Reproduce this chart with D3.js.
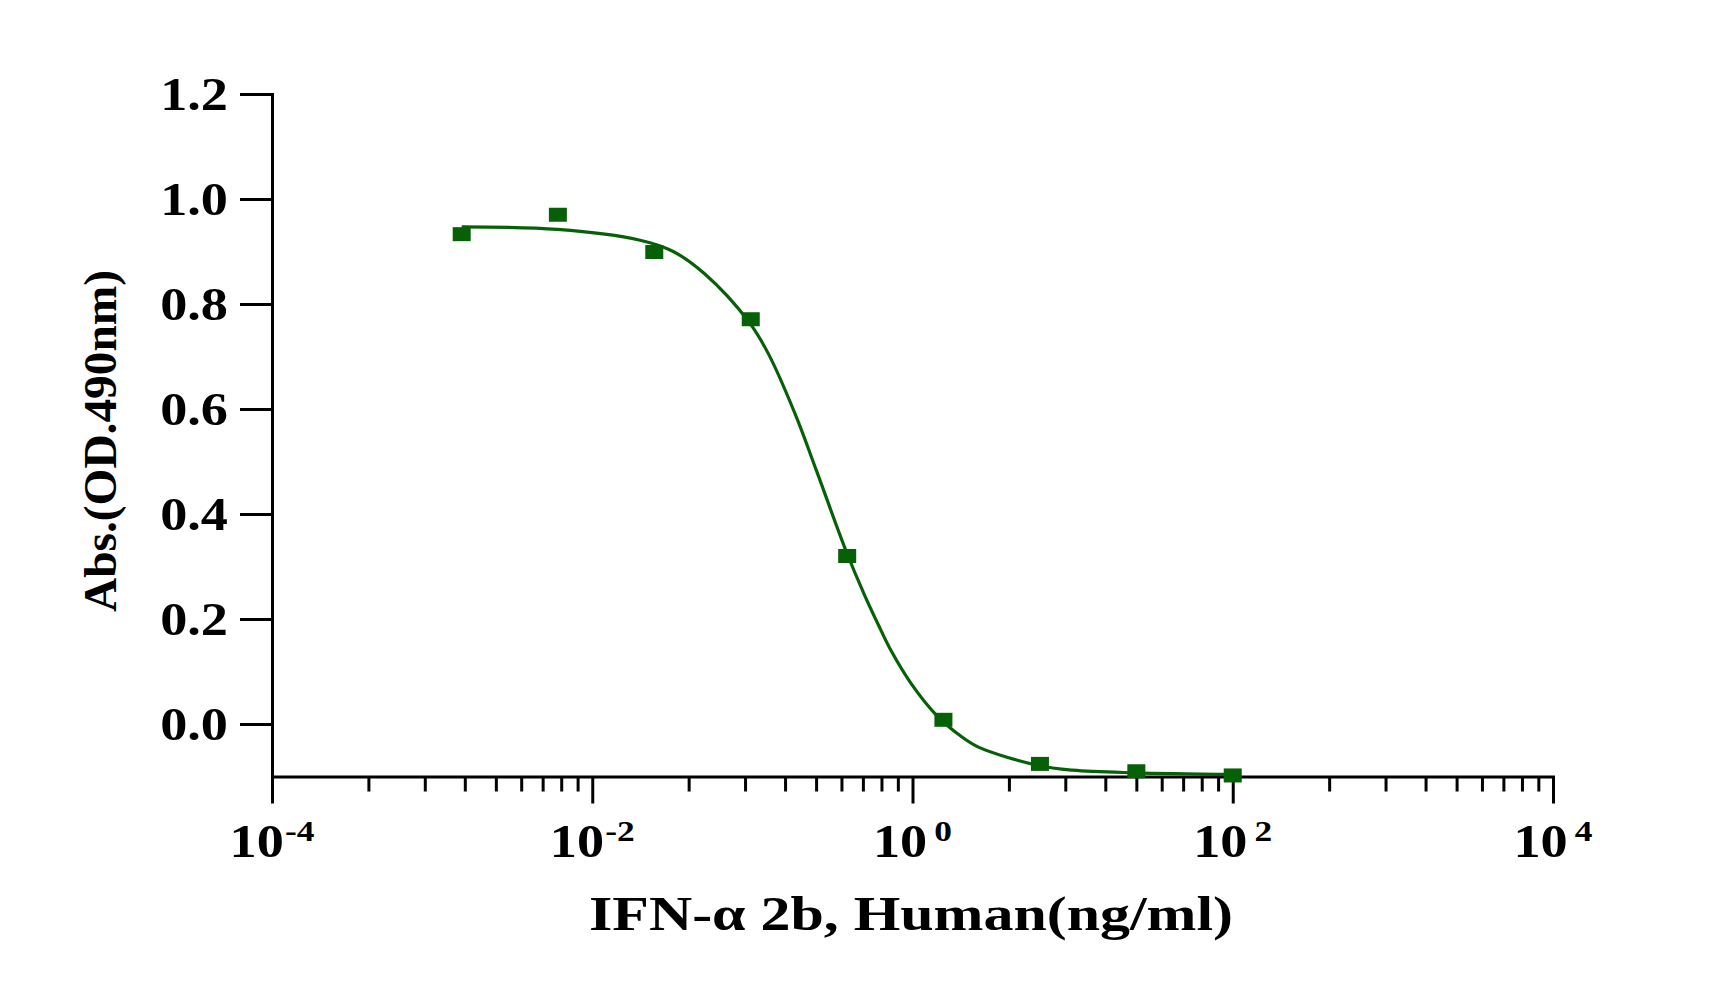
<!DOCTYPE html>
<html>
<head>
<meta charset="utf-8">
<script src="https://cdn.jsdelivr.net/npm/d3@7"></script>
<style>
  body { margin: 0; background: #fff; }
  text { font-family: "Liberation Serif", "Times New Roman", serif; font-weight: bold; fill: #000; }
</style>
</head>
<body>
<div id="vis"></div>
<script>
// measured points (ng/ml vs OD490)
var conc = [0.00153, 0.0061, 0.0244, 0.0977, 0.391, 1.56, 6.25, 25, 100];
var absorb = [0.933, 0.970, 0.899, 0.771, 0.320, 0.008, -0.076, -0.090, -0.098];

// fitted curve
var fitConc = [0.00153, 0.00605, 0.0196, 0.0316, 0.0501, 0.0951, 0.126, 0.187, 0.251, 0.383, 0.501, 0.614, 0.74, 0.986, 1.39, 2.0, 2.58, 6.1, 10, 24.2, 100];
var fitAbs = [0.947, 0.942, 0.922, 0.901, 0.858, 0.766, 0.705, 0.587, 0.483, 0.331, 0.246, 0.188, 0.138, 0.076, 0.019, -0.023, -0.044, -0.079, -0.088, -0.093, -0.096];

// axis ticks
var yTicks = [0.0, 0.2, 0.4, 0.6, 0.8, 1.0, 1.2];
var xMajor = [1e-4, 1e-2, 1e0, 1e2, 1e4];
var xExp = ["-4", "-2", "0", "2", "4"];

var w = 1730;
var h = 990;
var green = "#066106";
var stretch = 1.18;

var svg = d3.select("#vis")
.append("svg")
.attr("width", w)
.attr("height", h)
.style("background", "#fff");

//scales
var x = d3.scaleLog()
.domain([1e-4, 1e4])
.range([272, 1553])

var y = d3.scaleLinear()
.domain([-0.1, 1.2])
.range([776.5, 94])

// minor ticks: Prism style, k^2 steps inside each 100x span
var xMinor = [];
xMajor.slice(0, -1).forEach(function(m) {
  for (var k = 2; k <= 9; k++) xMinor.push(m * k * k);
});

//Draw Axis
var yAxis = svg.append("g")
.attr("transform", "translate(272,0)")
.call(d3.axisLeft(y).tickValues(yTicks).tickSize(32).tickSizeOuter(0).tickFormat(d3.format(".1f")))

yAxis.attr("font-family", null)
yAxis.selectAll("path, line").attr("stroke", "#000").attr("stroke-width", 3)
yAxis.select(".domain").attr("stroke-linecap", "square")
yAxis.selectAll("text")
.attr("font-size", 46)
.attr("x", -44 / stretch)
.attr("dy", "0.34em")
.attr("transform", "scale(" + stretch + ",1)")

var xAxis = svg.append("g")
.attr("transform", "translate(0,776.5)")
.call(d3.axisBottom(x).tickValues(xMajor).tickSize(27).tickSizeOuter(0).tickFormat(""))

xAxis.selectAll("path, line").attr("stroke", "#000").attr("stroke-width", 3)
xAxis.select(".domain").attr("stroke-linecap", "square")

var xMinorAxis = svg.append("g")
.attr("transform", "translate(0,776.5)")
.call(d3.axisBottom(x).tickValues(xMinor).tickSize(15).tickSizeOuter(0).tickFormat(""))

xMinorAxis.select(".domain").remove()
xMinorAxis.selectAll("line").attr("stroke", "#000").attr("stroke-width", 3)

// x tick labels 10^n
var xLab = svg.append("g")
.selectAll("g")
.data(xMajor)
.enter()
.append("g")
.attr("transform", d => `translate(${x(d)},857) scale(${stretch},1)`)

var t = xLab.append("text")
.attr("text-anchor", "middle")
.attr("font-size", 46)

t.append("tspan").text("10")
t.append("tspan")
.attr("font-size", 30)
.attr("dy", -16)
.attr("dx", (d, i) => xExp[i][0] == "-" ? 1 : 6)
.text((d, i) => xExp[i])

// titles
svg.append("text")
.attr("x", 911)
.attr("y", 930)
.attr("text-anchor", "middle")
.attr("font-size", 48)
.attr("textLength", 644)
.attr("lengthAdjust", "spacingAndGlyphs")
.text("IFN-α 2b, Human(ng/ml)")

svg.append("text")
.attr("transform", "translate(116,441) rotate(-90)")
.attr("text-anchor", "middle")
.attr("font-size", 47)
.attr("textLength", 342)
.attr("lengthAdjust", "spacingAndGlyphs")
.text("Abs.(OD.490nm)")

//Draw the curve
var line = d3.line()
.x((d, i) => x(fitConc[i]))
.y(d => y(d))
.curve(d3.curveCatmullRom)

svg.append("path")
.attr("d", line(fitAbs))
.attr("fill", "none")
.attr("stroke", green)
.attr("stroke-width", 3.2)

//Draw the mark
svg.append("g")
.selectAll("rect")
.data(absorb)
.enter()
.append("rect")
.attr("x", (d, i) => x(conc[i]) - 9)
.attr("y", d => y(d) - 7)
.attr("width", 18)
.attr("height", 14)
.attr("fill", green)
</script>
</body>
</html>
